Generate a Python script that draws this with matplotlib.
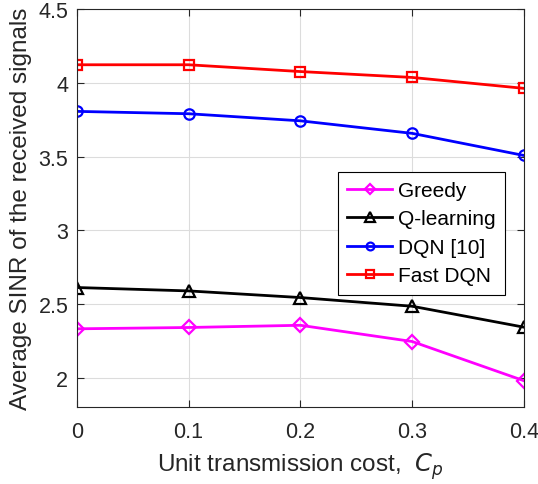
import matplotlib.pyplot as plt

plt.rcParams['font.family'] = ['Liberation Sans', 'DejaVu Sans']

cost = [0, 0.1, 0.2, 0.3, 0.4]
greedy = [2.332, 2.341, 2.356, 2.246, 1.980]
q_learning = [2.612, 2.589, 2.544, 2.485, 2.343]
dqn = [3.806, 3.790, 3.742, 3.657, 3.507]
fast_dqn = [4.122, 4.122, 4.076, 4.036, 3.962]

fig = plt.figure(figsize=(5.38, 4.85), dpi=100)
ax = fig.add_axes([76.7 / 538, 1 - 408.3 / 485, (524 - 76.7) / 538, (408.3 - 10) / 485])

dark = '#262626'
ax.plot(cost, greedy, color='#ff00ff', marker='D', ms=7, mfc='none', mew=1.6, lw=2, label='Greedy')
ax.plot(cost, q_learning, color='black', marker='^', ms=9, mfc='none', mew=1.6, lw=2, label='Q-learning')
ax.plot(cost, dqn, color='#0000ff', marker='o', ms=7.5, mfc='none', mew=1.6, lw=2, label='DQN [10]')
ax.plot(cost, fast_dqn, color='#ff0000', marker='s', ms=7, mfc='none', mew=1.6, lw=2, label='Fast DQN')

ax.set_xlim(0, 0.4)
ax.set_ylim(1.8, 4.5)
ax.set_xticks([0, 0.1, 0.2, 0.3, 0.4])
ax.set_xticklabels(['0', '0.1', '0.2', '0.3', '0.4'])
ax.set_yticks([2, 2.5, 3, 3.5, 4, 4.5])
ax.set_yticklabels(['2', '2.5', '3', '3.5', '4', '4.5'])
ax.grid(True, color='#dcdcdc', lw=0.8)
ax.set_axisbelow(True)
ax.tick_params(direction='in', length=5, width=0.8, colors=dark, labelsize=15.5,
               top=True, right=True)
ax.tick_params(axis='x', pad=10)
ax.tick_params(axis='y', pad=6)
for s in ax.spines.values():
    s.set_color(dark)
    s.set_linewidth(0.8)

ax.set_xlabel(r'Unit transmission cost,  $C_p$', fontsize=17.5, color=dark, labelpad=6)
ax.set_ylabel('Average SINR of the received signals', fontsize=17.5, color=dark, labelpad=5)

leg = ax.legend(loc='upper left', bbox_to_anchor=(338 / 538, 1 - 172.7 / 485),
                bbox_transform=fig.transFigure, fontsize=15, fancybox=False,
                framealpha=1, edgecolor='black', handlelength=2.15,
                handletextpad=0.3, borderpad=0.45, labelspacing=0.45,
                borderaxespad=0, markerscale=0.75)
leg.get_frame().set_linewidth(0.8)

fig.savefig('out.png', dpi=100)
